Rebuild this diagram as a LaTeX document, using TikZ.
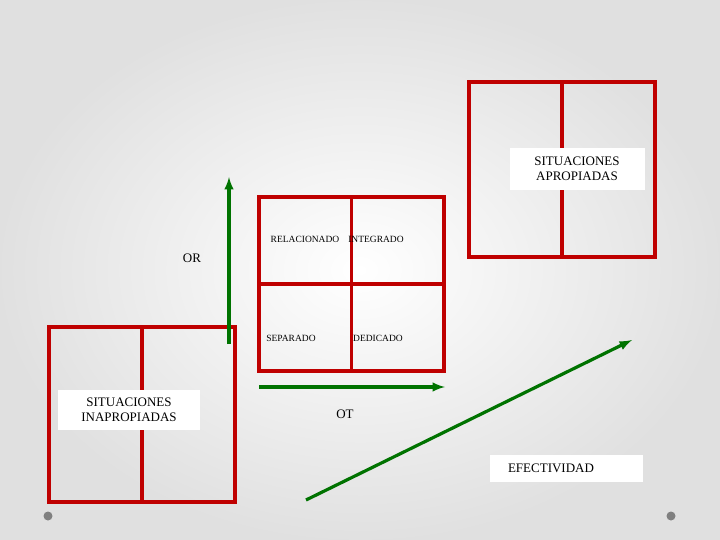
\documentclass[tikz,border=0pt]{standalone}
\usepackage{fontspec}
\setmainfont{Liberation Serif}
\begin{document}
\begin{tikzpicture}[x=1pt,y=-1pt,
  box/.style={draw=red!75!black,line width=3.4pt},
  grid/.style={draw=red!75!black,line width=3.4pt},
  arr/.style={draw=green!45!black,line width=3.2pt,-latex},
  lab/.style={fill=white,inner sep=0pt,align=center,font=\fontsize{13}{15}\selectfont},
  small/.style={font=\fontsize{9.5}{10}\selectfont,inner sep=0pt}]
\useasboundingbox (0,0) rectangle (720,540);
\shade[inner color=white,outer color=black!12] (0,0) rectangle (720,540);
% top right
\node[box,minimum width=186pt,minimum height=175pt] (tr) at (562,169.5) {};
\draw[grid] (tr.north) -- (tr.south);
\node[lab,minimum width=135pt,minimum height=42pt] (ap) at (577,169) {SITUACIONES\\APROPIADAS};
% middle
\node[box,minimum width=185pt,minimum height=174pt] (mid) at (351.5,284) {};
\draw[grid] (mid.north) -- (mid.south);
\draw[grid] (mid.west) -- (mid.east);
\node[small] (rel) at (305,239) {RELACIONADO};
\node[small] (int) at (376,239) {INTEGRADO};
\node[small] (sep) at (291,338) {SEPARADO};
\node[small] (ded) at (378,338) {DEDICADO};
% bottom left
\node[box,minimum width=186pt,minimum height=175pt] (bl) at (142,414.5) {};
\draw[grid] (bl.north) -- (bl.south);
\node[lab,minimum width=142pt,minimum height=40pt] (in) at (129,410) {SITUACIONES\\INAPROPIADAS};
% arrows
\coordinate (u0) at (229,344); \coordinate (u1) at (229,177);
\draw[arr] (u0) -- (u1);
\node[font=\fontsize{13}{15}\selectfont] (or) at (192,258) {OR};
\coordinate (r0) at (259,387); \coordinate (r1) at (445,387);
\draw[arr] (r0) -- (r1);
\node[font=\fontsize{13}{15}\selectfont] (ot) at (345,414) {OT};
\coordinate (d0) at (306,500); \coordinate (d1) at (632,340);
\draw[arr] (d0) -- (d1);
\node[lab,minimum width=153pt,minimum height=27pt] (ef) at (566,468) {\hspace*{-30pt}EFECTIVIDAD};
% dots
\fill[gray] (48,516) circle (4.5pt);
\fill[gray] (671,516) circle (4.5pt);
\end{tikzpicture}
\end{document}
